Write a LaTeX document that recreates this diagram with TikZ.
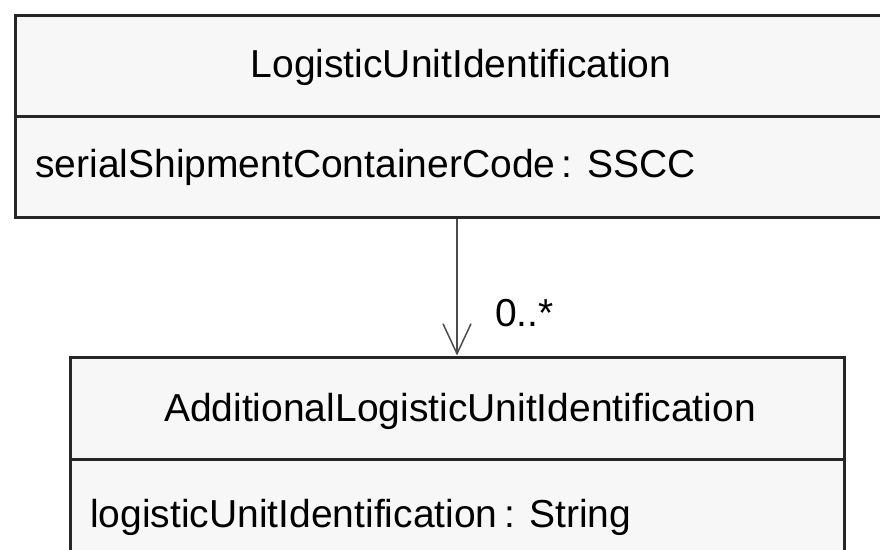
\documentclass[tikz,border=0pt]{standalone}
\usepackage{fontspec}
\setmainfont{Liberation Sans}
\usetikzlibrary{arrows.meta}
\tikzset{
  classbox/.style={draw=black!85, line width=3pt, fill=black!3, rectangle, inner sep=0pt},
  umltext/.style={font=\fontsize{39}{44}\selectfont, inner sep=0pt, anchor=base},
}
\begin{document}
\begin{tikzpicture}[x=1pt,y=-1pt]
\useasboundingbox (0,0) rectangle (880,549);
\clip (0,0) rectangle (880,549);
\node[classbox, minimum width=884pt, minimum height=202pt] (lui) at (457,116) {};
\node[classbox, minimum width=774pt, minimum height=284pt] (alui) at (457,499) {};
\draw[line width=3pt, black!85] (lui.west |- 0,116) -- (lui.east |- 0,116);
\draw[line width=3pt, black!85] (alui.west |- 0,459) -- (alui.east |- 0,459);

\node[umltext] (luiName) at (461,77) {LogisticUnitIdentification};
\node[umltext, anchor=base west] (luiAttr) at (35,177) {serialShipmentContainerCode\,: SSCC};
\node[umltext] (aluiName) at (460,421) {AdditionalLogisticUnitIdentification};
\node[umltext, anchor=base west] (aluiAttr) at (90,527) {logisticUnitIdentification\,: String};
\node[umltext, anchor=base west] (mult) at (495,326) {0..*};

\draw[line width=1.5pt, black!70, -{Straight Barb[length=30pt,width=28pt]}] (lui.south) -- (alui.north);
\end{tikzpicture}
\end{document}
